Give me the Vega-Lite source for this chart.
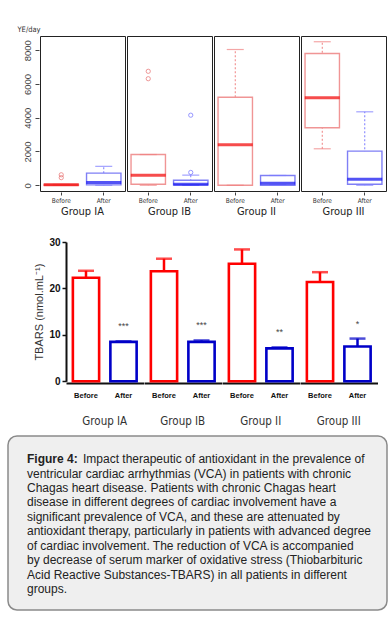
{
  "$schema": "https://vega.github.io/schema/vega-lite/v6.json",
  "padding": {"left": 7, "top": 25, "right": 0, "bottom": 0},
  "background": "white",
  "config": {"view": {"stroke": null}, "font": "Liberation Sans", "axis": {"grid": false}},
  "datasets": {
    "boxes": [
      {"group": "Group IA", "phase": "Before", "lower": 0, "q1": 0, "median": 30, "q3": 50, "upper": 50},
      {"group": "Group IA", "phase": "After", "lower": 0, "q1": 20, "median": 170, "q3": 720, "upper": 1120},
      {"group": "Group IB", "phase": "Before", "lower": 0, "q1": 60, "median": 600, "q3": 1820, "upper": 1820},
      {"group": "Group IB", "phase": "After", "lower": 0, "q1": 20, "median": 60, "q3": 300, "upper": 600},
      {"group": "Group II", "phase": "Before", "lower": 0, "q1": 0, "median": 2400, "q3": 5210, "upper": 8040},
      {"group": "Group II", "phase": "After", "lower": 0, "q1": 0, "median": 120, "q3": 580, "upper": 580},
      {"group": "Group III", "phase": "Before", "lower": 2160, "q1": 3410, "median": 5190, "q3": 7800, "upper": 8500},
      {"group": "Group III", "phase": "After", "lower": 0, "q1": 60, "median": 360, "q3": 2020, "upper": 4350},
      {"group": "Group IA", "phase": "Before", "outlier": 450},
      {"group": "Group IA", "phase": "Before", "outlier": 620},
      {"group": "Group IB", "phase": "Before", "outlier": 6310},
      {"group": "Group IB", "phase": "Before", "outlier": 6750},
      {"group": "Group IB", "phase": "After", "outlier": 760},
      {"group": "Group IB", "phase": "After", "outlier": 4150}
    ],
    "bars": [
      {"group": "Group IA", "phase": "Before", "mean": 22.3, "upper": 23.8, "stars": ""},
      {"group": "Group IA", "phase": "After", "mean": 8.5, "upper": 8.6, "stars": "***"},
      {"group": "Group IB", "phase": "Before", "mean": 23.7, "upper": 26.4, "stars": ""},
      {"group": "Group IB", "phase": "After", "mean": 8.5, "upper": 8.8, "stars": "***"},
      {"group": "Group II", "phase": "Before", "mean": 25.3, "upper": 28.4, "stars": ""},
      {"group": "Group II", "phase": "After", "mean": 7.1, "upper": 7.3, "stars": "**"},
      {"group": "Group III", "phase": "Before", "mean": 21.4, "upper": 23.5, "stars": ""},
      {"group": "Group III", "phase": "After", "mean": 7.5, "upper": 9.2, "stars": "*"}
    ],
    "caption": [
      {"line": 1, "lead": "Figure 4:", "text": "Impact therapeutic of antioxidant in the prevalence of"},
      {"line": 2, "lead": "", "text": "ventricular cardiac arrhythmias (VCA) in patients with chronic"},
      {"line": 3, "lead": "", "text": "Chagas heart disease. Patients with chronic Chagas heart"},
      {"line": 4, "lead": "", "text": "disease in different degrees of cardiac involvement have a"},
      {"line": 5, "lead": "", "text": "significant prevalence of VCA, and these are attenuated by"},
      {"line": 6, "lead": "", "text": "antioxidant therapy, particularly in patients with advanced degree"},
      {"line": 7, "lead": "", "text": "of cardiac involvement. The reduction of VCA is accompanied"},
      {"line": 8, "lead": "", "text": "by decrease of serum marker of oxidative stress (Thiobarbituric"},
      {"line": 9, "lead": "", "text": "Acid Reactive Substances-TBARS) in all patients in different"},
      {"line": 10, "lead": "", "text": "groups."}
    ]
  },
  "vconcat": [
    {
      "vconcat": [
        {
          "hconcat": [
            {"data": {"values": []}, "mark": "point", "width": 9, "height": 1},
            {
              "data": {"name": "boxes"},
              "facet": {"column": {"field": "group", "type": "nominal", "sort": ["Group IA", "Group IB", "Group II", "Group III"],
                "header": {"title": null, "labelOrient": "bottom", "labelFont": "DejaVu Sans Condensed, DejaVu Sans, sans-serif", "labelFontSize": 11, "labelColor": "#222", "labelPadding": 2}}},
              "spacing": 0,
              "spec": {
                "width": 85, "height": 155,
                "view": {"stroke": "#222", "strokeWidth": 1},
                "encoding": {
                  "x": {"field": "phase", "type": "nominal", "sort": ["Before", "After"],
                    "scale": {"paddingInner": 0.19, "paddingOuter": 0.095},
                    "axis": {"title": null, "domain": false, "tickSize": 3, "tickColor": "#444", "labelAngle": 0, "labelFont": "DejaVu Sans Condensed, DejaVu Sans, sans-serif", "labelFontSize": 6.5, "labelColor": "#333", "labelPadding": 2}}
                },
                "layer": [
                  {
                    "transform": [{"filter": "isValid(datum.median)"}],
                    "mark": {"type": "rule", "strokeDash": [2, 2], "strokeWidth": 1},
                    "encoding": {
                      "y": {"field": "lower", "type": "quantitative", "title": "YE/day",
                        "scale": {"domain": [-340, 8840], "nice": false, "zero": false},
                        "axis": {"values": [0, 2000, 4000, 6000, 8000], "format": "d", "labelOverlap": false, "labelAngle": 270, "labelAlign": "center", "labelBaseline": "bottom", "labelFontSize": 9.5, "labelColor": "#444", "tickSize": 4, "tickColor": "#444", "domain": false, "labelPadding": 3,
                          "titleAngle": 0, "titleX": -22, "titleY": -3, "titleAlign": "left", "titleBaseline": "bottom", "titleFontSize": 7.5, "titleFontWeight": "normal", "titleColor": "#333", "titleFont": "DejaVu Sans Condensed, DejaVu Sans, sans-serif"}},
                      "y2": {"field": "upper"},
                      "color": {"condition": {"test": "datum.phase == 'Before'", "value": "#ef8080"}, "value": "#7a7aff"}
                    }
                  },
                  {
                    "transform": [{"filter": "isValid(datum.median)"}],
                    "mark": {"type": "bar", "fill": "white", "strokeWidth": 1.4},
                    "encoding": {
                      "y": {"field": "q1", "type": "quantitative", "title": "YE/day",
                        "scale": {"domain": [-340, 8840], "nice": false, "zero": false},
                        "axis": {"values": [0, 2000, 4000, 6000, 8000], "format": "d", "labelOverlap": false, "labelAngle": 270, "labelAlign": "center", "labelBaseline": "bottom", "labelFontSize": 9.5, "labelColor": "#444", "tickSize": 4, "tickColor": "#444", "domain": false, "labelPadding": 3,
                          "titleAngle": 0, "titleX": -22, "titleY": -3, "titleAlign": "left", "titleBaseline": "bottom", "titleFontSize": 7.5, "titleFontWeight": "normal", "titleColor": "#333", "titleFont": "DejaVu Sans Condensed, DejaVu Sans, sans-serif"}},
                      "y2": {"field": "q3"},
                      "stroke": {"condition": {"test": "datum.phase == 'Before'", "value": "#f09595"}, "value": "#7f7ff5"}
                    }
                  },
                  {
                    "transform": [{"filter": "isValid(datum.median)"}],
                    "mark": {"type": "tick", "size": 17, "thickness": 1.2},
                    "encoding": {
                      "y": {"field": "upper", "type": "quantitative", "title": "YE/day",
                        "scale": {"domain": [-340, 8840], "nice": false, "zero": false},
                        "axis": {"values": [0, 2000, 4000, 6000, 8000], "format": "d", "labelOverlap": false, "labelAngle": 270, "labelAlign": "center", "labelBaseline": "bottom", "labelFontSize": 9.5, "labelColor": "#444", "tickSize": 4, "tickColor": "#444", "domain": false, "labelPadding": 3,
                          "titleAngle": 0, "titleX": -22, "titleY": -3, "titleAlign": "left", "titleBaseline": "bottom", "titleFontSize": 7.5, "titleFontWeight": "normal", "titleColor": "#333", "titleFont": "DejaVu Sans Condensed, DejaVu Sans, sans-serif"}},
                      "color": {"condition": {"test": "datum.phase == 'Before'", "value": "#ef8080"}, "value": "#7a7aff"}
                    }
                  },
                  {
                    "transform": [{"filter": "isValid(datum.median)"}],
                    "mark": {"type": "tick", "size": 17, "thickness": 1.2},
                    "encoding": {
                      "y": {"field": "lower", "type": "quantitative", "title": "YE/day",
                        "scale": {"domain": [-340, 8840], "nice": false, "zero": false},
                        "axis": {"values": [0, 2000, 4000, 6000, 8000], "format": "d", "labelOverlap": false, "labelAngle": 270, "labelAlign": "center", "labelBaseline": "bottom", "labelFontSize": 9.5, "labelColor": "#444", "tickSize": 4, "tickColor": "#444", "domain": false, "labelPadding": 3,
                          "titleAngle": 0, "titleX": -22, "titleY": -3, "titleAlign": "left", "titleBaseline": "bottom", "titleFontSize": 7.5, "titleFontWeight": "normal", "titleColor": "#333", "titleFont": "DejaVu Sans Condensed, DejaVu Sans, sans-serif"}},
                      "color": {"condition": {"test": "datum.phase == 'Before'", "value": "#ef8080"}, "value": "#7a7aff"}
                    }
                  },
                  {
                    "transform": [{"filter": "isValid(datum.median)"}],
                    "mark": {"type": "tick", "size": 35, "thickness": 3},
                    "encoding": {
                      "y": {"field": "median", "type": "quantitative", "title": "YE/day",
                        "scale": {"domain": [-340, 8840], "nice": false, "zero": false},
                        "axis": {"values": [0, 2000, 4000, 6000, 8000], "format": "d", "labelOverlap": false, "labelAngle": 270, "labelAlign": "center", "labelBaseline": "bottom", "labelFontSize": 9.5, "labelColor": "#444", "tickSize": 4, "tickColor": "#444", "domain": false, "labelPadding": 3,
                          "titleAngle": 0, "titleX": -22, "titleY": -3, "titleAlign": "left", "titleBaseline": "bottom", "titleFontSize": 7.5, "titleFontWeight": "normal", "titleColor": "#333", "titleFont": "DejaVu Sans Condensed, DejaVu Sans, sans-serif"}},
                      "color": {"condition": {"test": "datum.phase == 'Before'", "value": "#f20000"}, "value": "#0a0af0"}
                    }
                  },
                  {
                    "transform": [{"filter": "isValid(datum.outlier)"}],
                    "mark": {"type": "point", "filled": false, "size": 18, "strokeWidth": 1},
                    "encoding": {
                      "y": {"field": "outlier", "type": "quantitative", "title": "YE/day",
                        "scale": {"domain": [-340, 8840], "nice": false, "zero": false},
                        "axis": {"values": [0, 2000, 4000, 6000, 8000], "format": "d", "labelOverlap": false, "labelAngle": 270, "labelAlign": "center", "labelBaseline": "bottom", "labelFontSize": 9.5, "labelColor": "#444", "tickSize": 4, "tickColor": "#444", "domain": false, "labelPadding": 3,
                          "titleAngle": 0, "titleX": -22, "titleY": -3, "titleAlign": "left", "titleBaseline": "bottom", "titleFontSize": 7.5, "titleFontWeight": "normal", "titleColor": "#333", "titleFont": "DejaVu Sans Condensed, DejaVu Sans, sans-serif"}},
                      "color": {"condition": {"test": "datum.phase == 'Before'", "value": "#e86a6a"}, "value": "#6a6aff"}
                    }
                  }
                ]
              }
            }
          ],
          "spacing": 0
        },
        {
          "hconcat": [
            {"data": {"values": []}, "mark": "point", "width": 25, "height": 1},
            {
              "data": {"name": "bars"},
              "facet": {"column": {"field": "group", "type": "nominal", "sort": ["Group IA", "Group IB", "Group II", "Group III"],
                "header": {"title": null, "labelOrient": "bottom", "labelFont": "DejaVu Sans Condensed, DejaVu Sans, sans-serif", "labelFontSize": 11.5, "labelColor": "#333", "labelPadding": 17}}},
              "spacing": 0,
              "spec": {
                "width": 77.5, "height": 139.3,
                "encoding": {
                  "x": {"field": "phase", "type": "nominal", "sort": ["Before", "After"],
                    "scale": {"paddingInner": 0.3, "paddingOuter": 0.183},
                    "axis": {"title": null, "ticks": false, "domainWidth": 2, "domainColor": "#111", "labelAngle": 0, "labelFontWeight": "bold", "labelFontSize": 7.5, "labelColor": "#111", "labelPadding": 8}}
                },
                "layer": [
                  {
                    "mark": {"type": "bar", "fill": "white", "strokeWidth": 2.6},
                    "encoding": {
                      "y": {"field": "mean", "type": "quantitative", "title": "TBARS (nmol.mL⁻¹)",
                        "scale": {"domain": [0, 30], "nice": false},
                        "axis": {"values": [0, 10, 20, 30], "labelFontWeight": "bold", "labelFontSize": 10, "labelColor": "#111", "tickSize": 4, "tickWidth": 1.5, "tickColor": "#111", "domainWidth": 2, "domainColor": "#111", "titleFontSize": 11, "titleFontWeight": "normal", "titleColor": "#333", "titlePadding": 4}},
                      "stroke": {"condition": {"test": "datum.phase == 'Before'", "value": "#ff0000"}, "value": "#0000c8"}
                    }
                  },
                  {
                    "mark": {"type": "rule", "strokeWidth": 2.5},
                    "encoding": {
                      "y": {"field": "mean", "type": "quantitative", "title": "TBARS (nmol.mL⁻¹)"},
                      "y2": {"field": "upper"},
                      "color": {"condition": {"test": "datum.phase == 'Before'", "value": "#ff0000"}, "value": "#0000c8"}
                    }
                  },
                  {
                    "mark": {"type": "tick", "size": 16, "thickness": 2.5},
                    "encoding": {
                      "y": {"field": "upper", "type": "quantitative", "title": "TBARS (nmol.mL⁻¹)"},
                      "color": {"condition": {"test": "datum.phase == 'Before'", "value": "#ff0000"}, "value": "#0000c8"}
                    }
                  },
                  {
                    "transform": [{"filter": "datum.stars != ''"}],
                    "mark": {"type": "text", "dy": -15, "fontSize": 9, "color": "#444", "baseline": "middle"},
                    "encoding": {
                      "y": {"field": "upper", "type": "quantitative", "title": "TBARS (nmol.mL⁻¹)"},
                      "text": {"field": "stars"}
                    }
                  }
                ]
              }
            }
          ],
          "spacing": 0
        }
      ],
      "spacing": 20
    },
    {
      "data": {"name": "caption"},
      "width": 379, "height": 174,
      "view": {"fill": "#efefef", "stroke": "#8a8a8a", "strokeWidth": 1.5, "cornerRadius": 9},
      "encoding": {
        "y": {"field": "line", "type": "quantitative", "scale": {"domain": [-0.6, 11.45], "reverse": true, "nice": false, "zero": false}, "axis": null},
        "text": {"field": "text"}
      },
      "layer": [
        {"transform": [{"filter": "datum.line > 1"}], "mark": {"type": "text", "align": "left", "baseline": "middle", "dx": -170.5, "font": "Liberation Sans", "fontSize": 12, "color": "#222"}},
        {"transform": [{"filter": "datum.line == 1"}], "mark": {"type": "text", "align": "left", "baseline": "middle", "dx": -114.5, "font": "Liberation Sans", "fontSize": 12, "color": "#222"}},
        {"transform": [{"filter": "datum.line == 1"}], "mark": {"type": "text", "align": "left", "baseline": "middle", "dx": -170.5, "font": "Liberation Sans", "fontSize": 12, "fontWeight": "bold", "color": "#222"}, "encoding": {"text": {"field": "lead"}}}
      ]
    }
  ],
  "spacing": 8
}
